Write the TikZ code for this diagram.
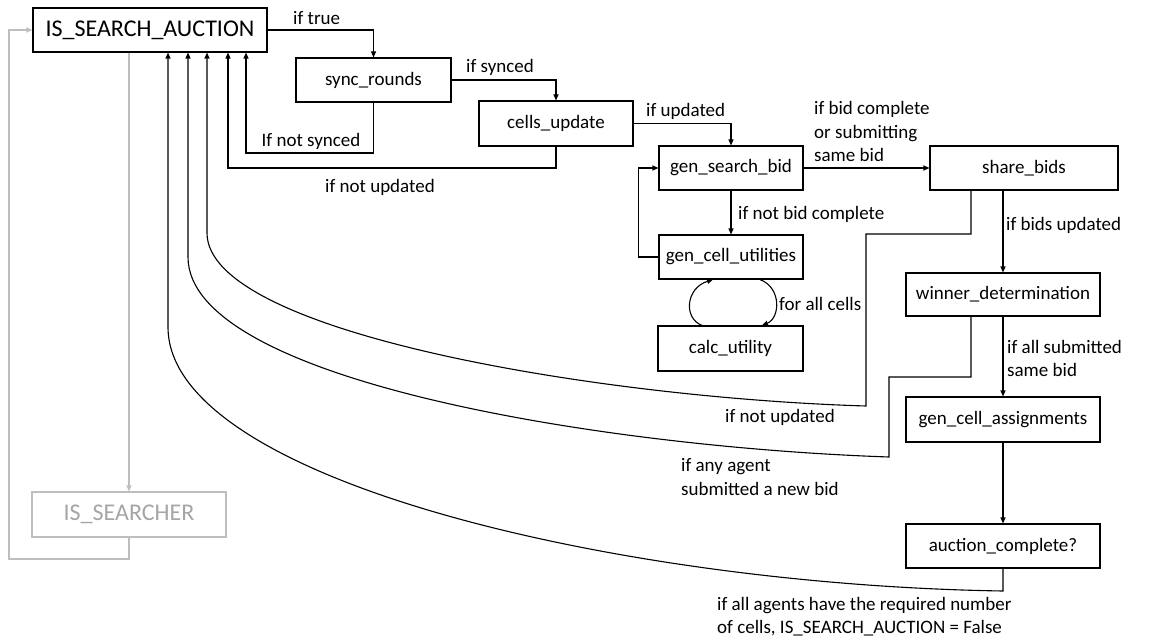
\documentclass[tikz,border=0pt]{standalone}
\usepackage{fontspec}
\setmainfont{Carlito}
\usetikzlibrary{arrows.meta,calc}
\definecolor{faint}{RGB}{190,190,190}
\definecolor{fainttext}{RGB}{165,165,165}
\begin{document}
\begin{tikzpicture}[x=1pt,y=-1pt,
  box/.style={draw=black,line width=1.1pt,inner sep=0pt,
    font=\fontsize{19}{24}\selectfont},
  bigbox/.style={box,font=\fontsize{24}{28}\selectfont},
  ghost/.style={draw=faint,line width=1.1pt,inner sep=0pt,text=fainttext,
    font=\fontsize{24}{28}\selectfont},
  arr/.style={line width=1.1pt,-{Triangle[length=6pt,width=5pt]}},
  ghostarr/.style={line width=1.1pt,draw=faint,-{Triangle[length=6pt,width=5pt]}},
  lbl/.style={inner sep=0pt,font=\fontsize{19}{23.5}\selectfont,align=left}]
\useasboundingbox (0,0) rectangle (1157,642);

% states
\node[bigbox,minimum width=234pt,minimum height=44pt] (isa) at (150,30) {IS\_SEARCH\_AUCTION};
\node[ghost,minimum width=194pt,minimum height=45pt] (iss) at (129,514.5) {IS\_SEARCHER};
\node[box,minimum width=155pt,minimum height=44pt] (sync) at (373.5,80) {sync\_rounds};
\node[box,minimum width=154pt,minimum height=45pt] (cells) at (556,123.5) {cells\_update};
\node[box,minimum width=144pt,minimum height=44pt] (gsb) at (731,168) {gen\_search\_bid};
\node[box,minimum width=144pt,minimum height=44pt] (gcu) at (731,257) {gen\_cell\_utilities};
\node[box,minimum width=145pt,minimum height=45pt] (calc) at (730.5,348.5) {calc\_utility};
\node[box,minimum width=188pt,minimum height=44pt] (share) at (1024,168) {share\_bids};
\node[box,minimum width=194pt,minimum height=43pt] (winner) at (1003,294.5) {winner\_determination};
\node[box,minimum width=194pt,minimum height=45pt] (gca) at (1003,419.5) {gen\_cell\_assignments};
\node[box,minimum width=194pt,minimum height=44pt] (ac) at (1003,546) {auction\_complete?};

% greyed-out searcher branch
\coordinate (lp) at (9,559);
\draw[ghostarr] (isa.south -| iss.north) -- (iss.north);
\draw[ghostarr] (iss.south) |- (lp) |- (isa.west);

% main forward path
\draw[arr] (isa.east) -| (sync.north);
\node[lbl,anchor=west] (ltrue) at (293,18) {if true};
\draw[arr] (sync.east) -| (cells.north);
\node[lbl,anchor=west] (lsynced) at (466,67) {if synced};
\draw[arr] (cells.east) -| (gsb.north);
\node[lbl,anchor=west] (lupd) at (646,111) {if updated};
\draw[arr] (gsb.east) -- (share.west);
\node[lbl,anchor=west] (lcomplete) at (814,131.5) {if bid complete\\or submitting\\same bid};
\draw[arr] (gsb.south) -- (gcu.north);
\node[lbl,anchor=west] (lnotcomplete) at (738,214) {if not bid complete};
\draw[arr] (gcu.west) -- ++(-20,0) |- (gsb.west);

% utility loop
\draw[arr] ($(calc.north)+(-28.5,0)$) .. controls (683,318) and (686,288) .. ($(gcu.south)+(-18,0)$);
\draw[arr] ($(gcu.south)+(29,0)$) .. controls (782,288) and (780,318) .. ($(calc.north)+(31.5,0)$);
\node[lbl,anchor=west] (lall) at (779,304) {for all cells};

% auction path
\draw[arr] (share.south -| winner.north) -- (winner.north);
\node[lbl,anchor=west] (lbids) at (1006,225) {if bids updated};
\draw[arr] (winner.south) -- (gca.north);
\node[lbl,anchor=west] (lsame) at (1007,358.5) {if all submitted\\same bid};
\draw[arr] (gca.south) -- (ac.north);

% returns to IS_SEARCH_AUCTION
\coordinate (r1) at (246,153);
\draw[arr] (sync.south) |- (r1) -- (r1 |- isa.south);
\node[lbl] (lnotsynced) at (311,141) {If not synced};

\coordinate (r2) at (228,168);
\draw[arr] (cells.south) |- (r2) -- (r2 |- isa.south);
\node[lbl] (lnotupd1) at (380,187) {if not updated};

\coordinate (r3s) at (971,234);
\coordinate (r3a) at (866,406);
\coordinate (r3b) at (207,233);
\draw[arr] (share.south -| r3s) -- (r3s) -| (r3a)
  .. controls (600,398) and (207,333) .. (r3b) -- (r3b |- isa.south);
\node[lbl] (lnotupd2) at (780,417) {if not updated};

\coordinate (r4s) at (971,377);
\coordinate (r4a) at (889,457);
\coordinate (r4b) at (188,257);
\draw[arr] (winner.south -| r4s) -- (r4s) -| (r4a)
  .. controls (600,447) and (188,380) .. (r4b) -- (r4b |- isa.south);
\node[lbl,anchor=west] (lnew) at (681,477) {if any agent\\submitted a new bid};

\coordinate (r5a) at (1003,591);
\coordinate (r5b) at (168,327);
\draw[arr] (ac.south) -- (r5a)
  .. controls (620,585) and (168,480) .. (r5b) -- (r5b |- isa.south);
\node[lbl,anchor=west] (lfinal) at (717,616.5) {if all agents have the required number\\of cells, IS\_SEARCH\_AUCTION = False};
\end{tikzpicture}
\end{document}
